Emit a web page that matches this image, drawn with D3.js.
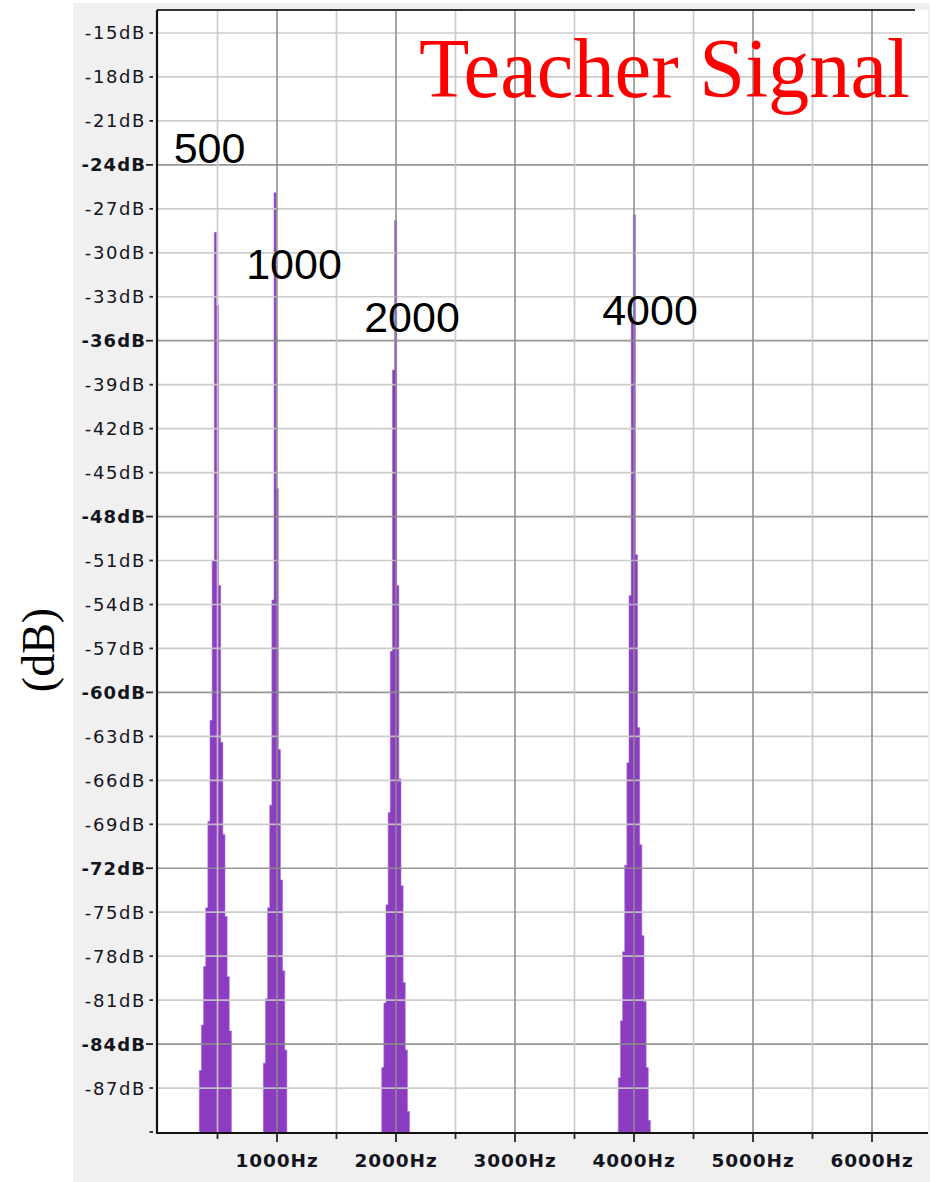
<!DOCTYPE html>
<meta charset="utf-8">
<style>
body { margin: 0; background: #fff; }
svg { display: block; }
.ylab { font: 18px "DejaVu Sans", sans-serif; letter-spacing: 1.6px; fill: #14141e; }
.ylab.major { font-weight: bold; letter-spacing: 1.1px; }
.xlab { font: bold 18.5px "DejaVu Sans", sans-serif; letter-spacing: 0.9px; fill: #14141e; }
.peak-label { font: 43px "Liberation Sans", Arial, sans-serif; fill: #000; }
</style>
<svg width="936" height="1182"></svg>
<script src="https://cdn.jsdelivr.net/npm/d3@7/dist/d3.min.js"></script>
<script>

// frequency ticks (Hz) and level ticks (dB)
var freqTicks = [1000, 2000, 3000, 4000, 5000, 6000];
var freqMinorTicks = [500, 1500, 2500, 3500, 4500, 5500];
var dbTicks = [-15, -18, -21, -24, -27, -30, -33, -36, -39, -42, -45, -48, -51, -54,
               -57, -60, -63, -66, -69, -72, -75, -78, -81, -84, -87];
var dbMajor = [-24, -36, -48, -60, -72, -84];

// spectrum bins around each tone (dB per 18 Hz bin)
var binHz = 18;
var peakNames = ["500", "1000", "2000", "4000"];
var peakStartHz = [347, 885, 1880, 3868];
var peak500  = [-85.8, -82.7, -78.7, -74.7, -68.8, -61.9, -51.0, -28.6, -33.6, -52.7, -63.4, -69.7, -75.3, -79.4, -83.1];
var peak1000 = [-85.3, -80.9, -74.7, -67.7, -53.7, -25.9, -46.1, -63.9, -72.8, -79.0, -84.4];
var peak2000 = [-85.6, -81.2, -74.5, -68.2, -57.2, -38.0, -27.8, -52.7, -65.9, -73.2, -79.8, -84.4, -88.6];
var peak4000 = [-86.3, -82.4, -77.7, -71.8, -64.8, -53.4, -34.4, -27.4, -50.6, -62.4, -70.4, -76.6, -81.1, -85.6, -89.2];
var peakLevels = [peak500, peak1000, peak2000, peak4000];

var svg = d3.select("svg");

var plotLeft = 157, plotTop = 10, plotRight = 928, plotBottom = 1133;

var x = d3.scaleLinear().domain([0, 6000]).range([158, 872]);
var y = d3.scaleLinear().domain([-90, -15]).range([1132, 33]);

// gray panel behind the plot
svg.append("rect")
    .attr("x", 73).attr("y", 3)
    .attr("width", 857).attr("height", 1179)
    .attr("fill", "#f0f0f0");

svg.append("rect")
    .attr("x", plotLeft).attr("y", plotTop)
    .attr("width", plotRight - plotLeft).attr("height", plotBottom - plotTop)
    .attr("fill", "#fff");

// one stepped area per tone
var area = d3.area()
    .x(function(d) { return x(d.f); })
    .y0(plotBottom)
    .y1(function(d) { return y(d.db); })
    .curve(d3.curveStepAfter);

var peakSeries = peakLevels.map(function(levels, p) {
  var pts = levels.map(function(db, i) { return { f: peakStartHz[p] + i * binHz, db: db }; });
  pts.push({ f: peakStartHz[p] + levels.length * binHz, db: levels[levels.length - 1] });
  return pts;
});

svg.append("g")
    .attr("class", "bars")
  .selectAll("path")
  .data(peakSeries)
  .enter().append("path")
    .attr("d", area)
    .attr("fill", "#8b3cc1")
    .attr("stroke", "#a66fd6")
    .attr("stroke-width", 0.6);

// grid (drawn over the bars, like the original)
var grid = svg.append("g").attr("class", "grid");

grid.selectAll(".hgrid")
  .data(dbTicks)
  .enter().append("line")
    .attr("x1", plotLeft).attr("x2", plotRight)
    .attr("y1", function(d) { return y(d); })
    .attr("y2", function(d) { return y(d); })
    .attr("stroke", function(d) { return dbMajor.indexOf(d) >= 0 ? "#8c8c8c" : "#c6c6c6"; })
    .attr("stroke-opacity", 0.9)
    .attr("stroke-width", 1.7);

grid.selectAll(".vgrid")
  .data(freqMinorTicks.concat(freqTicks))
  .enter().append("line")
    .attr("y1", plotTop).attr("y2", plotBottom)
    .attr("x1", function(d) { return x(d); })
    .attr("x2", function(d) { return x(d); })
    .attr("stroke", function(d) { return d % 1000 === 0 ? "#8c8c8c" : "#c6c6c6"; })
    .attr("stroke-opacity", 0.9)
    .attr("stroke-width", 1.7);

// frame
svg.append("line")
    .attr("x1", plotLeft).attr("x2", 915)
    .attr("y1", plotTop).attr("y2", plotTop)
    .attr("stroke", "#333").attr("stroke-width", 2);
svg.append("line")
    .attr("x1", plotLeft).attr("x2", plotLeft)
    .attr("y1", plotTop).attr("y2", plotBottom + 1)
    .attr("stroke", "#111").attr("stroke-width", 2.2);
svg.append("line")
    .attr("x1", plotLeft).attr("x2", plotRight)
    .attr("y1", plotBottom).attr("y2", plotBottom)
    .attr("stroke", "#111").attr("stroke-width", 2.2);

// y axis ticks + labels
var yAxis = svg.append("g").attr("class", "y-axis");
var yt = yAxis.selectAll("g")
  .data(dbTicks.concat([-90]))
  .enter().append("g")
    .attr("transform", function(d) { return "translate(0," + y(d) + ")"; });
yt.append("line")
    .attr("x1", function(d) { return dbMajor.indexOf(d) >= 0 ? 146 : 149.5; })
    .attr("x2", 153)
    .attr("stroke", "#222").attr("stroke-width", 1.8);
yt.filter(function(d) { return d !== -90; })
  .append("text")
    .attr("class", function(d) { return dbMajor.indexOf(d) >= 0 ? "ylab major" : "ylab"; })
    .attr("x", 146)
    .attr("dy", "0.36em")
    .attr("text-anchor", "end")
    .text(function(d) { return d + "dB"; });

// x axis ticks + labels
var xAxis = svg.append("g").attr("class", "x-axis");
xAxis.selectAll(".minor")
  .data(freqMinorTicks)
  .enter().append("line")
    .attr("x1", function(d) { return x(d); }).attr("x2", function(d) { return x(d); })
    .attr("y1", plotBottom).attr("y2", plotBottom + 6)
    .attr("stroke", "#222").attr("stroke-width", 1.8);
var xt = xAxis.selectAll(".major")
  .data(freqTicks)
  .enter().append("g")
    .attr("transform", function(d) { return "translate(" + x(d) + "," + plotBottom + ")"; });
xt.append("line")
    .attr("y2", 9)
    .attr("stroke", "#222").attr("stroke-width", 1.8);
xt.append("text")
    .attr("class", "xlab")
    .attr("y", 34)
    .attr("text-anchor", "middle")
    .text(function(d) { return d + "Hz"; });

// y axis title
svg.append("text")
    .attr("transform", "translate(54,650) rotate(-90)")
    .attr("text-anchor", "middle")
    .style("font", "46px 'Liberation Serif', 'Times New Roman', serif")
    .text("(dB)");

// title
svg.append("text")
    .attr("x", 419).attr("y", 97)
    .attr("textLength", 491)
    .attr("lengthAdjust", "spacingAndGlyphs")
    .style("font", "84px 'Liberation Serif', 'Times New Roman', serif")
    .style("fill", "#ff0000")
    .text("Teacher Signal");

// peak annotations, placed next to each tone
var labelOffsets = [[-8, -23.9], [17, -31.8], [16, -35.4], [16, -34.9]];
svg.append("g")
  .selectAll("text")
  .data(peakNames)
  .enter().append("text")
    .attr("class", "peak-label")
    .attr("x", function(d, i) { return x(+d) + labelOffsets[i][0]; })
    .attr("y", function(d, i) { return y(labelOffsets[i][1]); })
    .attr("text-anchor", "middle")
    .text(function(d) { return d; });

</script>
